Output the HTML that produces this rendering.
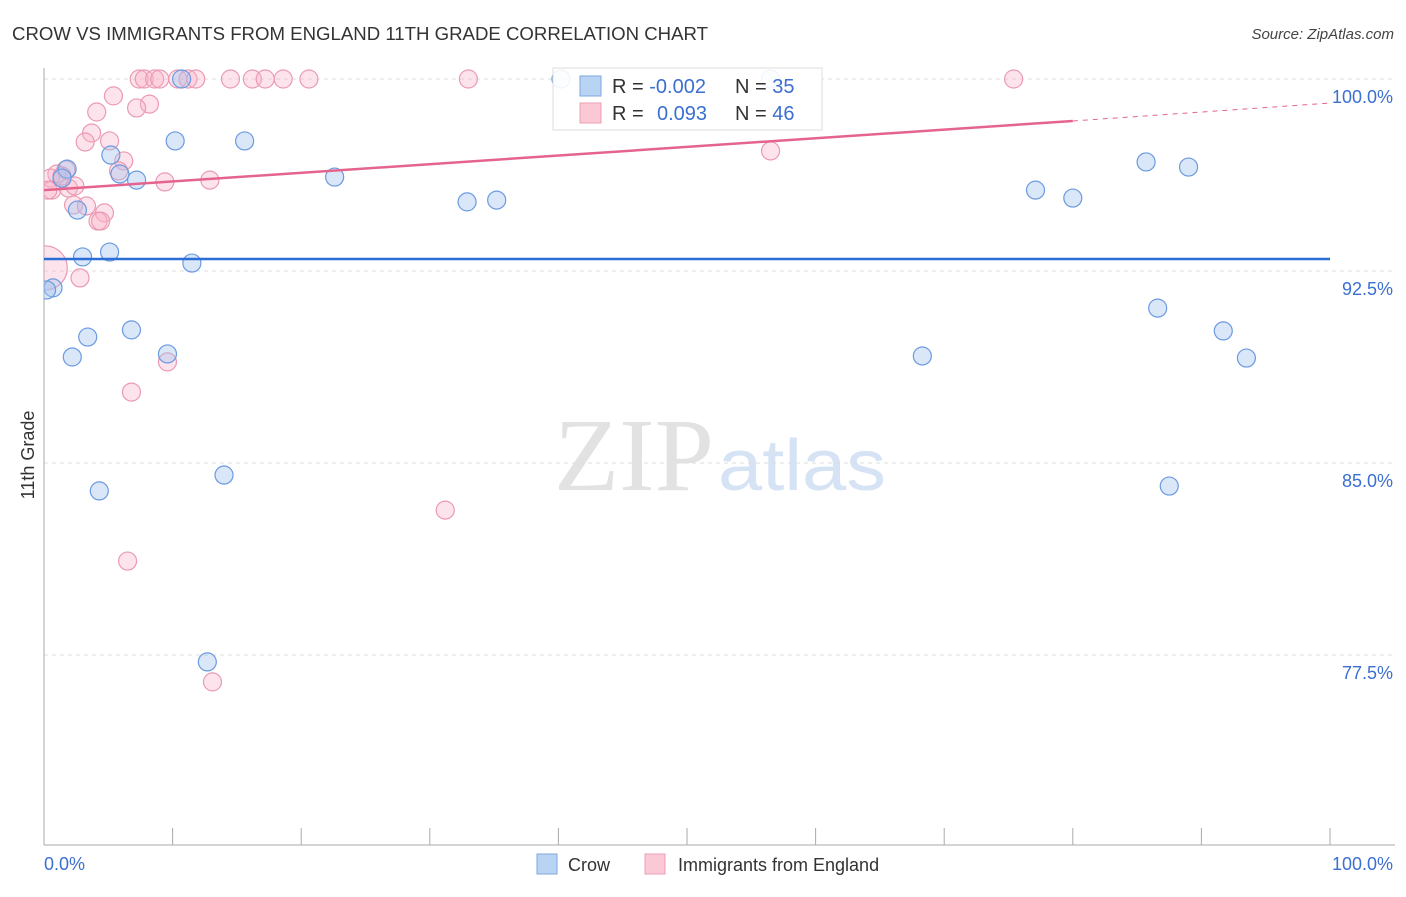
<!DOCTYPE html>
<html><head><meta charset="utf-8"><style>
body{margin:0;background:#fff;width:1406px;height:892px;overflow:hidden;font-family:"Liberation Sans",sans-serif}
</style></head><body>
<svg id="chart" width="1406" height="892" xmlns="http://www.w3.org/2000/svg" font-family="Liberation Sans, sans-serif">
<defs><clipPath id="plotclip"><rect x="44" y="60" width="1360" height="785"/></clipPath></defs>
<text x="12" y="40" font-size="18" fill="#333" textLength="696" lengthAdjust="spacingAndGlyphs">CROW VS IMMIGRANTS FROM ENGLAND 11TH GRADE CORRELATION CHART</text>
<text x="1394" y="39" font-size="15" fill="#444" font-style="italic" text-anchor="end">Source: ZipAtlas.com</text>
<g>
<text x="714" y="490" font-size="104" fill="#e2e2e2" font-family="Liberation Serif, serif" text-anchor="end" textLength="160" lengthAdjust="spacingAndGlyphs">ZIP</text>
<text x="718" y="490" font-size="72" fill="#d5e3f5" textLength="168" lengthAdjust="spacingAndGlyphs">atlas</text>
</g>
<g id="grid"></g>
<g id="axes"></g>
<g id="marks" clip-path="url(#plotclip)"></g>
<text transform="translate(34,455) rotate(-90)" font-size="18" fill="#333" text-anchor="middle">11th Grade</text>
<text x="44" y="870" font-size="18" fill="#3b6fd0">0.0%</text>
<text x="1393" y="870" font-size="18" fill="#3b6fd0" text-anchor="end">100.0%</text>
<g>
<rect x="537" y="854" width="20" height="20" fill="#b9d3f3" stroke="#7ea7e0"/>
<text x="568" y="871" font-size="18" fill="#333">Crow</text>
<rect x="645" y="854" width="20" height="20" fill="#fbc8d6" stroke="#eba0b6"/>
<text x="678" y="871" font-size="18" fill="#333">Immigrants from England</text>
</g>
<g>
<rect x="553" y="68" width="269" height="62" fill="#fff" fill-opacity="0.9" stroke="#ddd"/>
<rect x="580" y="76" width="21" height="20" fill="#b9d3f3" stroke="#7ea7e0"/>
<rect x="580" y="103" width="21" height="20" fill="#fbc8d6" stroke="#eba0b6"/>
<text x="612" y="93" font-size="20" fill="#333">R = <tspan fill="#3b6fd0">-0.002</tspan><tspan x="735">N = </tspan><tspan fill="#3b6fd0">35</tspan></text>
<text x="612" y="120" font-size="20" fill="#333">R = <tspan fill="#3b6fd0" x="657">0.093</tspan><tspan x="735">N = </tspan><tspan fill="#3b6fd0">46</tspan></text>
</g>
</svg>
<script>
const yTicks=[100,92.5,85,77.5];
const yTickLabels=["100.0%","92.5%","85.0%","77.5%"];
const crowX=[40.2,56.5,10.7,10.2,15.6,5.2,5.9,7.2,1.8,1.4,2.6,22.6,32.9,35.2,85.7,89.0,77.1,80.0,5.1,3.0,11.5,0.7,0.2,6.8,3.4,2.2,9.6,68.3,86.6,91.7,93.5,14.0,4.3,87.5,12.7];
const crowY=[100,100,100,97.58,97.58,97.03,96.29,96.05,96.48,96.13,94.88,96.17,95.2,95.27,96.76,96.56,95.66,95.35,93.24,93.05,92.81,91.84,91.76,90.2,89.92,89.14,89.26,89.18,91.05,90.16,89.1,84.53,83.91,84.1,77.23];
const engX=[7.4,7.8,8.6,9.0,10.4,11.2,11.8,14.5,16.2,17.2,18.6,20.6,33.0,75.4,5.4,4.1,8.2,7.2,3.7,3.2,5.1,1.7,1.0,6.2,5.8,9.4,12.9,56.5,0.5,0.6,1.9,2.4,2.3,3.3,4.7,4.2,4.4,0.1,2.8,9.6,6.8,31.2,6.5,13.1,1.4,0.3];
const engY=[100,100,100,100,100,100,100,100,100,100,100,100,100,100,99.34,98.71,99.02,98.87,97.89,97.54,97.58,96.45,96.29,96.8,96.41,95.98,96.05,97.19,96.13,95.66,95.74,95.82,95.08,95.04,94.77,94.45,94.45,92.62,92.23,88.95,87.77,83.16,81.17,76.45,96.21,95.66];
const crowTrend=[92.97,92.97];
const engTrend=[95.66,98.36,99.06];
const engTrendX=[0,80,100];
const NS="http://www.w3.org/2000/svg";
const X=v=>44+v*12.86;
const Y=v=>79+(100-v)*25.6;
function mk(tag,attrs,parent){const e=document.createElementNS(NS,tag);for(const k in attrs)e.setAttribute(k,attrs[k]);parent.appendChild(e);return e;}
const grid=document.getElementById('grid'),axes=document.getElementById('axes'),marks=document.getElementById('marks');
yTicks.forEach((t,i)=>{
 const l=mk('line',{x1:44,x2:1395,y1:Y(t),y2:Y(t),stroke:'#ddd','stroke-dasharray':'4,4'},grid);
 
 
 const tx=mk('text',{x:1393,y:Y(t)+24,'font-size':18,fill:'#3b6fd0','text-anchor':'end'},grid);
 tx.textContent=yTickLabels[i];
 
 
});
const ya=mk('line',{x1:44,x2:44,y1:68,y2:845,stroke:'#aaa'},axes);


const xa=mk('line',{x1:44,x2:1395,y1:845,y2:845,stroke:'#aaa'},axes);


for(let i=1;i<=10;i++){const t=mk('line',{x1:X(i*10),x2:X(i*10),y1:828,y2:845,stroke:'#aaa'},axes);
 
 }
engX.forEach((x,i)=>{const c=mk('circle',{cx:X(x),cy:Y(engY[i]),r:(i==37?22:9),fill:'rgba(248,178,200,0.35)',stroke:'#eb9ab2','stroke-width':1.2},marks);
 
 });
crowX.forEach((x,i)=>{const c=mk('circle',{cx:X(x),cy:Y(crowY[i]),r:9,fill:'rgba(160,196,240,0.4)',stroke:'#6b9ae0','stroke-width':1.2},marks);
 
 });
const bl=mk('line',{x1:X(0),x2:X(100),y1:Y(crowTrend[0]),y2:Y(crowTrend[1]),stroke:'#2b6fd6','stroke-width':2.5},marks);


const pl=mk('line',{x1:X(engTrendX[0]),x2:X(engTrendX[1]),y1:Y(engTrend[0]),y2:Y(engTrend[1]),stroke:'#e5648e','stroke-width':2.5},marks);


const pd=mk('line',{x1:X(engTrendX[1]),x2:X(engTrendX[2]),y1:Y(engTrend[1]),y2:Y(engTrend[2]),stroke:'#e5648e','stroke-width':1,'stroke-dasharray':'5,5'},marks);


</script>
</body></html>
